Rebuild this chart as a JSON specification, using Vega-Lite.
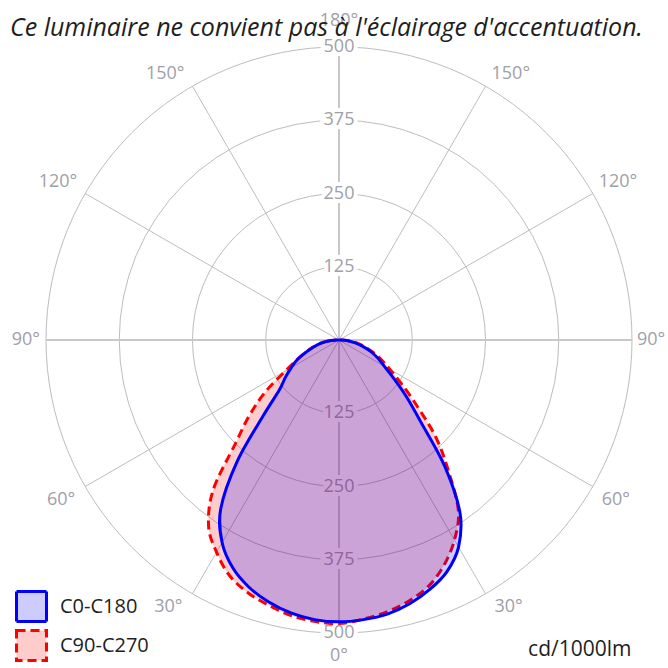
{
  "$schema": "https://vega.github.io/schema/vega-lite/v6.json",
  "width": 586,
  "height": 586,
  "autosize": {"type": "none"},
  "padding": {"left": 46, "top": 47, "right": 36, "bottom": 35},
  "background": "#ffffff",
  "title": {
    "text": "Ce luminaire ne convient pas à l'éclairage d'accentuation.",
    "anchor": "start", "frame": "group", "dx": -36, "dy": 35, "offset": 6,
    "font": "Open Sans", "fontStyle": "italic", "fontWeight": "normal", "fontSize": 25, "color": "#1e1e1e"
  },
  "config": {"view": {"stroke": null}},
  "datasets": {
    "curves": [
      {"series":"C0-C180","gamma":-90,"cd":3},{"series":"C0-C180","gamma":-85,"cd":18},{"series":"C0-C180","gamma":-80,"cd":31},{"series":"C0-C180","gamma":-75,"cd":44},{"series":"C0-C180","gamma":-70,"cd":59},{"series":"C0-C180","gamma":-65,"cd":78},{"series":"C0-C180","gamma":-60,"cd":94},{"series":"C0-C180","gamma":-55,"cd":112},{"series":"C0-C180","gamma":-50,"cd":133},{"series":"C0-C180","gamma":-45,"cd":183},{"series":"C0-C180","gamma":-40,"cd":270},{"series":"C0-C180","gamma":-35,"cd":352},{"series":"C0-C180","gamma":-30,"cd":399},{"series":"C0-C180","gamma":-25,"cd":429},{"series":"C0-C180","gamma":-20,"cd":449},{"series":"C0-C180","gamma":-15,"cd":463},{"series":"C0-C180","gamma":-10,"cd":473},{"series":"C0-C180","gamma":-5,"cd":479},{"series":"C0-C180","gamma":0,"cd":481},
      {"series":"C0-C180","gamma":5,"cd":479},{"series":"C0-C180","gamma":10,"cd":475},{"series":"C0-C180","gamma":15,"cd":466},{"series":"C0-C180","gamma":20,"cd":453},{"series":"C0-C180","gamma":25,"cd":436},{"series":"C0-C180","gamma":30,"cd":408},{"series":"C0-C180","gamma":35,"cd":360},{"series":"C0-C180","gamma":40,"cd":280},{"series":"C0-C180","gamma":45,"cd":197},{"series":"C0-C180","gamma":50,"cd":150},{"series":"C0-C180","gamma":55,"cd":114},{"series":"C0-C180","gamma":60,"cd":89},{"series":"C0-C180","gamma":65,"cd":73},{"series":"C0-C180","gamma":70,"cd":58},{"series":"C0-C180","gamma":75,"cd":42},{"series":"C0-C180","gamma":80,"cd":28},{"series":"C0-C180","gamma":85,"cd":15},{"series":"C0-C180","gamma":90,"cd":3},
      {"series":"C90-C270","gamma":-90,"cd":4},{"series":"C90-C270","gamma":-85,"cd":19},{"series":"C90-C270","gamma":-80,"cd":32},{"series":"C90-C270","gamma":-75,"cd":45},{"series":"C90-C270","gamma":-70,"cd":60},{"series":"C90-C270","gamma":-65,"cd":78},{"series":"C90-C270","gamma":-60,"cd":105},{"series":"C90-C270","gamma":-55,"cd":152},{"series":"C90-C270","gamma":-50,"cd":199},{"series":"C90-C270","gamma":-45,"cd":250},{"series":"C90-C270","gamma":-40,"cd":334},{"series":"C90-C270","gamma":-35,"cd":388},{"series":"C90-C270","gamma":-30,"cd":418},{"series":"C90-C270","gamma":-25,"cd":443},{"series":"C90-C270","gamma":-20,"cd":458},{"series":"C90-C270","gamma":-15,"cd":468},{"series":"C90-C270","gamma":-10,"cd":477},{"series":"C90-C270","gamma":-5,"cd":482},{"series":"C90-C270","gamma":0,"cd":484},
      {"series":"C90-C270","gamma":5,"cd":478},{"series":"C90-C270","gamma":10,"cd":471},{"series":"C90-C270","gamma":15,"cd":461},{"series":"C90-C270","gamma":20,"cd":447},{"series":"C90-C270","gamma":25,"cd":424},{"series":"C90-C270","gamma":30,"cd":394},{"series":"C90-C270","gamma":35,"cd":355},{"series":"C90-C270","gamma":40,"cd":290},{"series":"C90-C270","gamma":45,"cd":233},{"series":"C90-C270","gamma":50,"cd":172},{"series":"C90-C270","gamma":55,"cd":130},{"series":"C90-C270","gamma":60,"cd":100},{"series":"C90-C270","gamma":65,"cd":80},{"series":"C90-C270","gamma":70,"cd":62},{"series":"C90-C270","gamma":75,"cd":46},{"series":"C90-C270","gamma":80,"cd":32},{"series":"C90-C270","gamma":85,"cd":19},{"series":"C90-C270","gamma":90,"cd":4}
    ],
    "legendkeys": [{"series":"C0-C180"},{"series":"C90-C270"}],
    "rings": [{"r":125},{"r":250},{"r":375},{"r":500}],
    "spokes": [{"a":30},{"a":60},{"a":120},{"a":150},{"a":-30},{"a":-60},{"a":-120},{"a":-150}],
    "mainlines": [{"a":0},{"a":90},{"a":180},{"a":-90}],
    "ticks": [
      {"lab":"125","v":125,"a":180},{"lab":"250","v":250,"a":180},{"lab":"375","v":375,"a":180},{"lab":"500","v":500,"a":180},
      {"lab":"125","v":125,"a":0},{"lab":"250","v":250,"a":0},{"lab":"375","v":375,"a":0},{"lab":"500","v":500,"a":0}
    ],
    "angles": [
      {"lab":"0°","a":0},{"lab":"30°","a":30},{"lab":"60°","a":60},{"lab":"90°","a":90},{"lab":"120°","a":120},{"lab":"150°","a":150},{"lab":"180°","a":180},
      {"lab":"30°","a":-30},{"lab":"60°","a":-60},{"lab":"90°","a":-90},{"lab":"120°","a":-120},{"lab":"150°","a":-150}
    ]
  },
  "encoding": {
    "x": {"field":"x","type":"quantitative","scale":{"domain":[-500,500],"nice":false,"zero":false},
      "axis":{"orient":"bottom","domain":false,"ticks":false,"labels":false,"grid":false,"title":"cd/1000lm","titleAnchor":"end","titleAlign":"right","titleX":585,"titleY":16,"titleBaseline":"middle","titleFont":"Open Sans","titleFontSize":21,"titleFontWeight":"normal","titleColor":"#1e1e1e"}},
    "y": {"field":"y","type":"quantitative","scale":{"domain":[-500,500],"nice":false,"zero":false},"axis":null}
  },
  "layer": [
    {
      "data": {"name":"legendkeys"},
      "transform": [{"calculate":"0","as":"x"},{"calculate":"0","as":"y"}],
      "mark": {"type":"point","shape":"square","filled":false,"opacity":0,"strokeWidth":3},
      "encoding": {
        "color": {"field":"series","type":"nominal","scale":{"domain":["C0-C180","C90-C270"],"range":["#0000ff","#ff0000"]},
          "legend":{"title":null,"orient":"none","legendX":-31,"legendY":543,"padding":0,"symbolType":"square","symbolSize":900,"symbolStrokeWidth":3,"symbolOpacity":1,"symbolFillColor":"#ffffff","labelFont":"Open Sans","labelFontSize":20,"labelColor":"#1e1e1e","labelOffset":12,"rowPadding":-4}},
        "fill": {"field":"series","type":"nominal","scale":{"domain":["C0-C180","C90-C270"],"range":["#ccccff","#ffcccc"]},
          "legend":{"title":null,"orient":"none","legendX":-31,"legendY":543,"padding":0,"symbolType":"square","symbolSize":900,"symbolStrokeWidth":3,"symbolOpacity":1,"symbolFillColor":"#ffffff","labelFont":"Open Sans","labelFontSize":20,"labelColor":"#1e1e1e","labelOffset":12,"rowPadding":-4}},
        "strokeDash": {"field":"series","type":"nominal","scale":{"domain":["C0-C180","C90-C270"],"range":[[1,0],[9,5]]},
          "legend":{"title":null,"orient":"none","legendX":-31,"legendY":543,"padding":0,"symbolType":"square","symbolSize":900,"symbolStrokeWidth":3,"symbolOpacity":1,"symbolFillColor":"#ffffff","labelFont":"Open Sans","labelFontSize":20,"labelColor":"#1e1e1e","labelOffset":12,"rowPadding":-4}}
      }
    },
    {
      "data": {"name":"rings"},
      "transform": [{"calculate":"0","as":"x"},{"calculate":"0","as":"y"}],
      "mark": {"type":"point","shape":"circle","filled":false,"stroke":"#bdbdbd","strokeWidth":1,"opacity":1},
      "encoding": {
        "size": {"field":"r","type":"quantitative","scale":{"type":"pow","exponent":2,"domain":[0,500],"range":[0,343396]},"legend":null}
      }
    },
    {
      "data": {"name":"spokes"},
      "transform": [{"calculate":"0","as":"x"},{"calculate":"0","as":"y"},{"calculate":"500*sin(datum.a*PI/180)","as":"x2"},{"calculate":"-500*cos(datum.a*PI/180)","as":"y2"}],
      "mark": {"type":"rule","stroke":"#bdbdbd","strokeWidth":1},
      "encoding": {"x2": {"field":"x2"}, "y2": {"field":"y2"}}
    },
    {
      "data": {"name":"mainlines"},
      "transform": [{"calculate":"0","as":"x"},{"calculate":"0","as":"y"},{"calculate":"500*sin(datum.a*PI/180)","as":"x2"},{"calculate":"-500*cos(datum.a*PI/180)","as":"y2"}],
      "mark": {"type":"rule","stroke":"#c8c8c8","strokeWidth":2},
      "encoding": {"x2": {"field":"x2"}, "y2": {"field":"y2"}}
    },
    {
      "data": {"name":"ticks"},
      "transform": [{"calculate":"datum.v*sin(datum.a*PI/180)","as":"x"},{"calculate":"-datum.v*cos(datum.a*PI/180)","as":"y"}],
      "mark": {"type":"text","font":"Open Sans","fontSize":18,"fill":"#ffffff","stroke":"#ffffff","strokeWidth":8,"align":"center","baseline":"middle"},
      "encoding": {"text": {"field":"lab"}}
    },
    {
      "data": {"name":"ticks"},
      "transform": [{"calculate":"datum.v*sin(datum.a*PI/180)","as":"x"},{"calculate":"-datum.v*cos(datum.a*PI/180)","as":"y"}],
      "mark": {"type":"text","font":"Open Sans","fontSize":18,"fill":"#a0a0a8","align":"center","baseline":"middle"},
      "encoding": {"text": {"field":"lab"}}
    },
    {
      "data": {"name":"angles"},
      "transform": [{"filter":"datum.a < -90 && datum.a > -180"},{"calculate":"500*sin(datum.a*PI/180)","as":"x"},{"calculate":"-500*cos(datum.a*PI/180)","as":"y"}],
      "mark": {"type":"text","font":"Open Sans","fontSize":18,"fill":"#a0a0a8","align":"right","baseline":"middle","dx":-8,"dy":-12},
      "encoding": {"text": {"field":"lab"}}
    },
    {
      "data": {"name":"angles"},
      "transform": [{"filter":"datum.a == -90"},{"calculate":"500*sin(datum.a*PI/180)","as":"x"},{"calculate":"-500*cos(datum.a*PI/180)","as":"y"}],
      "mark": {"type":"text","font":"Open Sans","fontSize":18,"fill":"#a0a0a8","align":"right","baseline":"middle","dx":-6,"dy":0},
      "encoding": {"text": {"field":"lab"}}
    },
    {
      "data": {"name":"angles"},
      "transform": [{"filter":"datum.a > -90 && datum.a < 0"},{"calculate":"500*sin(datum.a*PI/180)","as":"x"},{"calculate":"-500*cos(datum.a*PI/180)","as":"y"}],
      "mark": {"type":"text","font":"Open Sans","fontSize":18,"fill":"#a0a0a8","align":"right","baseline":"middle","dx":-10,"dy":13},
      "encoding": {"text": {"field":"lab"}}
    },
    {
      "data": {"name":"angles"},
      "transform": [{"filter":"datum.a > 90 && datum.a < 180"},{"calculate":"500*sin(datum.a*PI/180)","as":"x"},{"calculate":"-500*cos(datum.a*PI/180)","as":"y"}],
      "mark": {"type":"text","font":"Open Sans","fontSize":18,"fill":"#a0a0a8","align":"left","baseline":"middle","dx":6,"dy":-12},
      "encoding": {"text": {"field":"lab"}}
    },
    {
      "data": {"name":"angles"},
      "transform": [{"filter":"datum.a == 90"},{"calculate":"500*sin(datum.a*PI/180)","as":"x"},{"calculate":"-500*cos(datum.a*PI/180)","as":"y"}],
      "mark": {"type":"text","font":"Open Sans","fontSize":18,"fill":"#a0a0a8","align":"left","baseline":"middle","dx":5,"dy":0},
      "encoding": {"text": {"field":"lab"}}
    },
    {
      "data": {"name":"angles"},
      "transform": [{"filter":"datum.a > 0 && datum.a < 90"},{"calculate":"500*sin(datum.a*PI/180)","as":"x"},{"calculate":"-500*cos(datum.a*PI/180)","as":"y"}],
      "mark": {"type":"text","font":"Open Sans","fontSize":18,"fill":"#a0a0a8","align":"left","baseline":"middle","dx":9,"dy":13},
      "encoding": {"text": {"field":"lab"}}
    },
    {
      "data": {"name":"angles"},
      "transform": [{"filter":"datum.a == 180"},{"calculate":"500*sin(datum.a*PI/180)","as":"x"},{"calculate":"-500*cos(datum.a*PI/180)","as":"y"}],
      "mark": {"type":"text","font":"Open Sans","fontSize":18,"fill":"#a0a0a8","align":"center","baseline":"middle","dy":-26},
      "encoding": {"text": {"field":"lab"}}
    },
    {
      "data": {"name":"angles"},
      "transform": [{"filter":"datum.a == 0"},{"calculate":"500*sin(datum.a*PI/180)","as":"x"},{"calculate":"-500*cos(datum.a*PI/180)","as":"y"}],
      "mark": {"type":"text","font":"Open Sans","fontSize":18,"fill":"#a0a0a8","align":"center","baseline":"middle","dy":23},
      "encoding": {"text": {"field":"lab"}}
    },
    {
      "data": {"name":"curves"},
      "transform": [
        {"filter":"datum.series === 'C90-C270'"},
        {"calculate":"datum.cd*sin(datum.gamma*PI/180)","as":"x"},
        {"calculate":"-datum.cd*cos(datum.gamma*PI/180)","as":"y"}
      ],
      "mark": {"type":"line","interpolate":"cardinal-closed","stroke":"#ff0000","strokeDash":[9,5],"fill":"#ff0000","fillOpacity":0.2,"strokeWidth":3},
      "encoding": {
        "order": {"field":"gamma","type":"quantitative"}
      }
    },
    {
      "data": {"name":"curves"},
      "transform": [
        {"filter":"datum.series === 'C0-C180'"},
        {"calculate":"datum.cd*sin(datum.gamma*PI/180)","as":"x"},
        {"calculate":"-datum.cd*cos(datum.gamma*PI/180)","as":"y"}
      ],
      "mark": {"type":"line","interpolate":"cardinal-closed","stroke":"#0000ff","fill":"#0000ff","fillOpacity":0.2,"strokeWidth":3},
      "encoding": {
        "order": {"field":"gamma","type":"quantitative"}
      }
    }
  ]
}
